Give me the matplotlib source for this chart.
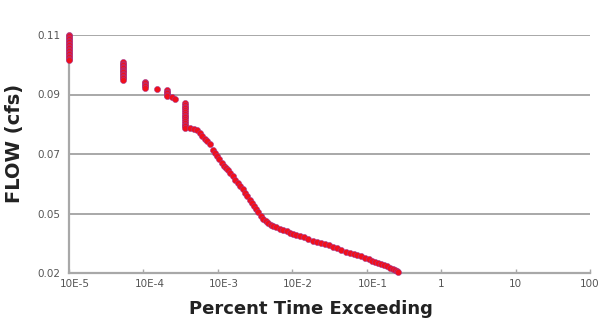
import matplotlib
matplotlib.use("Agg")
import matplotlib.pyplot as plt
from matplotlib.transforms import ScaledTranslation

# Flow-duration data: percent of time exceeded vs. flow (cfs)
# Tied flows at the same exceedance form vertical stacks
stack_pct = [1.0e-5, 5.3e-5, 1.05e-4, 2.07e-4, 3.6e-4]
stack_flow = [
    [0.1100, 0.1095, 0.1090, 0.1085, 0.1080, 0.1075, 0.1070, 0.1065, 0.1060,
     0.1055, 0.1050, 0.1045, 0.1040, 0.1035, 0.1030, 0.1025, 0.1020, 0.1016],
    [0.1009, 0.1004, 0.0999, 0.0994, 0.0989, 0.0984, 0.0979, 0.0974, 0.0969,
     0.0964, 0.0959, 0.0954, 0.0949],
    [0.0942, 0.0937, 0.0932, 0.0927, 0.0922],
    [0.0915, 0.0910, 0.0905, 0.0900, 0.0895],
    [0.0871, 0.0865, 0.0859, 0.0853, 0.0847, 0.0841, 0.0835, 0.0829, 0.0823,
     0.0817, 0.0811, 0.0805, 0.0799, 0.0793, 0.0787],
]

curve_pct = [1.5e-4, 2.4e-4, 2.66e-4, 4.2e-4, 4.8e-4, 5.2e-4, 5.75e-4, 6.2e-4,
             6.7e-4, 7.2e-4, 7.8e-4, 8.6e-4, 9.2e-4, 9.7e-4, 1.05e-3, 1.14e-3,
             1.22e-3, 1.29e-3, 1.37e-3, 1.46e-3, 1.58e-3, 1.70e-3, 1.84e-3,
             1.98e-3, 2.15e-3, 2.32e-3, 2.50e-3, 2.70e-3, 2.88e-3, 3.06e-3,
             3.25e-3, 3.46e-3, 3.75e-3, 4.04e-3, 4.38e-3, 4.72e-3, 5.1e-3,
             5.5e-3, 6.1e-3, 6.8e-3, 7.6e-3, 8.5e-3, 9.3e-3, 1.02e-2, 1.13e-2,
             1.27e-2, 1.44e-2, 1.63e-2, 1.88e-2, 2.15e-2, 2.45e-2, 2.75e-2,
             3.1e-2, 3.5e-2, 4.0e-2, 4.5e-2, 5.2e-2, 6.0e-2, 6.7e-2, 7.4e-2,
             8.4e-2, 9.5e-2, 1.06e-1, 1.18e-1, 1.30e-1, 1.42e-1, 1.56e-1,
             1.71e-1, 1.88e-1, 2.06e-1, 2.23e-1, 2.40e-1, 2.52e-1, 2.63e-1]
curve_flow = [0.0918, 0.0890, 0.0885, 0.0787, 0.0784, 0.0781, 0.0771, 0.0762,
              0.0751, 0.0743, 0.0734, 0.0714, 0.0703, 0.0693, 0.0682, 0.0670,
              0.0661, 0.0653, 0.0645, 0.0636, 0.0625, 0.0613, 0.0603, 0.0593,
              0.0581, 0.0569, 0.0558, 0.0546, 0.0535, 0.0525, 0.0515, 0.0505,
              0.0493, 0.0482, 0.0475, 0.0468, 0.0463, 0.0458, 0.0453, 0.0448,
              0.0444, 0.0441, 0.0436, 0.0431, 0.0428, 0.0425, 0.0420, 0.0414,
              0.0409, 0.0404, 0.0401, 0.0398, 0.0393, 0.0388, 0.0383, 0.0378,
              0.0372, 0.0367, 0.0364, 0.0361, 0.0356, 0.0351, 0.0346, 0.0341,
              0.0338, 0.0334, 0.0331, 0.0327, 0.0322, 0.0317, 0.0314, 0.0310,
              0.0307, 0.0304]

x_ticks = [1e-5, 1e-4, 1e-3, 1e-2, 1e-1, 1, 10, 100]
x_tick_labels = ["10E-5", "10E-4", "10E-3", "10E-2", "10E-1", "1", "10", "100"]
y_ticks = [0.03, 0.05, 0.07, 0.09, 0.11]
y_tick_labels = ["0.02", "0.05", "0.07", "0.09", "0.11"]

fig = plt.figure(figsize=(6.06, 3.22), dpi=100)
ax = fig.add_axes([69 / 606, 1 - 273 / 322, (590 - 69) / 606, (273 - 35) / 322])

grid_color = "#a8a8a8"
marker_style = dict(linestyle="none", marker="o", markersize=4.4,
                    markerfacecolor="#f0101c", markeredgecolor="#9a3a9a",
                    markeredgewidth=0.35, clip_on=False, zorder=3)

for pct, flows in zip(stack_pct, stack_flow):
    ax.plot([pct] * len(flows), flows, **marker_style)
ax.plot(curve_pct, curve_flow, **marker_style)

ax.set_xscale("log")
ax.set_xlim(1e-5, 100)
ax.set_ylim(0.03, 0.11)
ax.set_xticks(x_ticks)
ax.set_xticklabels(x_tick_labels)
ax.minorticks_off()
ax.set_yticks(y_ticks)
ax.set_yticklabels(y_tick_labels)

for y in y_ticks[1:]:
    ax.axhline(y, color=grid_color, linewidth=1.4, zorder=1)

for side in ("top", "right"):
    ax.spines[side].set_visible(False)
for side in ("left", "bottom"):
    ax.spines[side].set_color(grid_color)
    ax.spines[side].set_linewidth(1.6)

ax.tick_params(axis="x", direction="in", length=3, width=1, color=grid_color,
               pad=4, labelsize=7.5, labelcolor="#555555")
ax.tick_params(axis="y", length=0, pad=6, labelsize=7.5, labelcolor="#555555")
for lbl in ax.get_xticklabels() + ax.get_yticklabels():
    lbl.set_family(["Liberation Sans Narrow", "DejaVu Sans"])

# wider labels sit a little right of their tick
for lbl in ax.get_xticklabels():
    if "E" in lbl.get_text():
        lbl.set_transform(lbl.get_transform() +
                          ScaledTranslation(6 / 100, 0, fig.dpi_scale_trans))

ax.set_xlabel("Percent Time Exceeding", fontsize=13, fontweight="bold",
              color="#222222")
ax.xaxis.set_label_coords(0.464, -0.152)
ax.xaxis.label.set_va("center")
ax.set_ylabel("FLOW (cfs)", fontsize=14, fontweight="bold", color="#222222")
ax.yaxis.set_label_coords(-0.104, 0.546)
ax.yaxis.label.set_va("center")

fig.savefig("out.png", dpi=100, facecolor="white")
